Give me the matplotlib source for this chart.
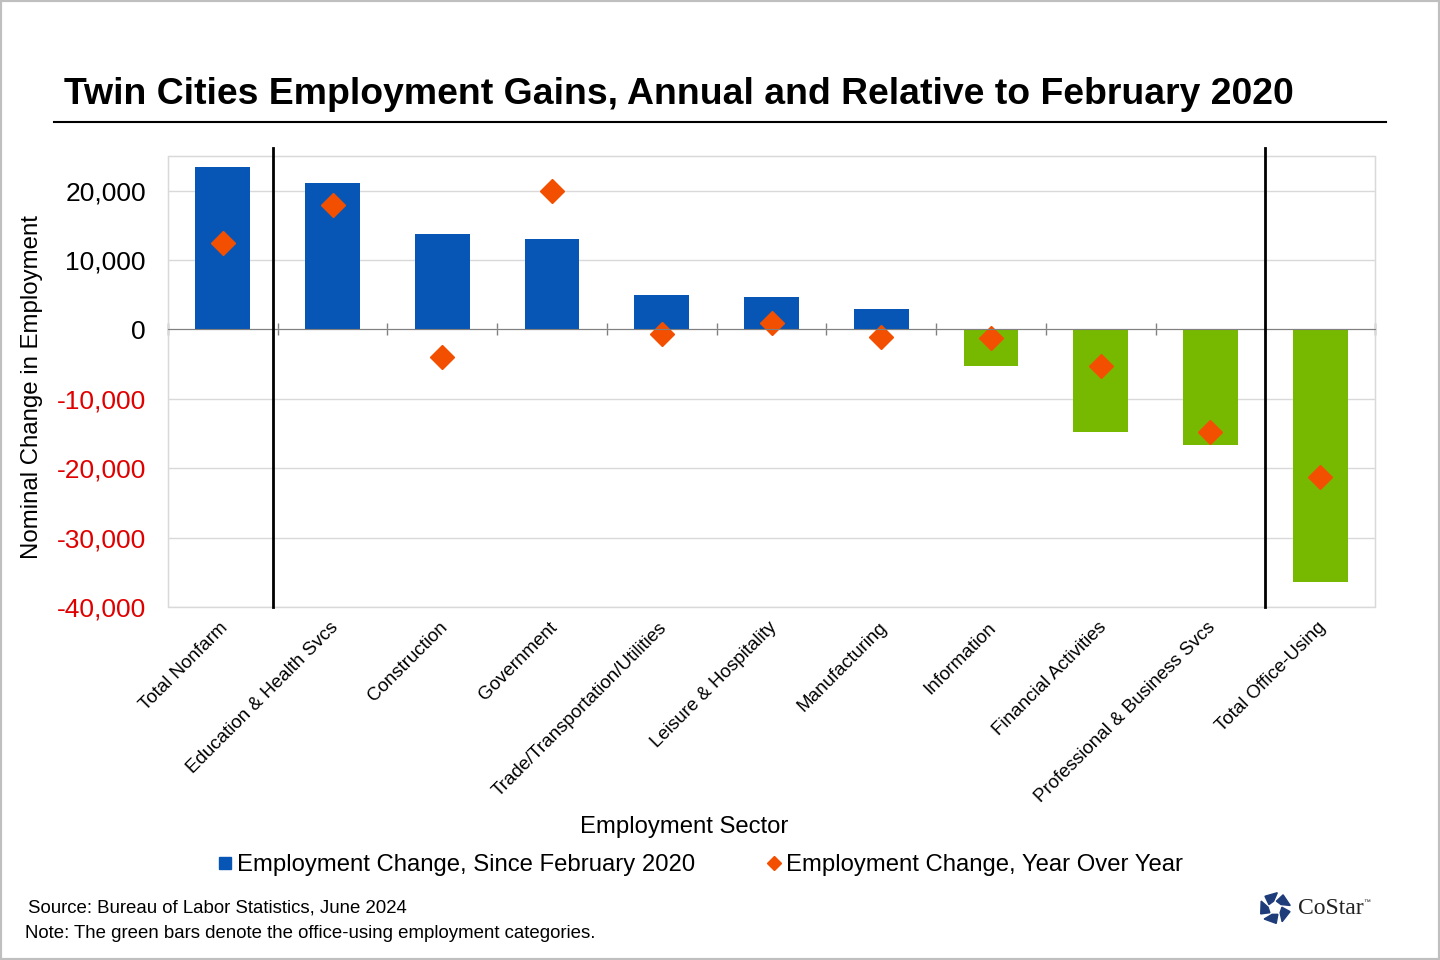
import numpy as np
import matplotlib
matplotlib.use('Agg')
import matplotlib.pyplot as plt
from matplotlib.patches import Rectangle, Polygon
from matplotlib.lines import Line2D
from matplotlib.transforms import blended_transform_factory, offset_copy

plt.rcParams['font.family'] = ['Liberation Sans', 'DejaVu Sans']

sectors = ['Total Nonfarm', 'Education & Health Svcs', 'Construction', 'Government',
           'Trade/Transportation/Utilities', 'Leisure & Hospitality', 'Manufacturing',
           'Information', 'Financial Activities', 'Professional & Business Svcs',
           'Total Office-Using']
since_feb2020 = [23450, 21150, 13700, 13100, 4900, 4750, 2900, -5200, -14800, -16700, -36400]
year_over_year = [12400, 18000, -3900, 19900, -700, 1000, -1100, -1200, -5300, -14800, -21200]
office_using = [False, False, False, False, False, False, False, True, True, True, True]

BLUE = '#0755B4'
GREEN = '#77B800'
ORANGE = '#F25000'
RED = '#E00000'

fig = plt.figure(figsize=(14.4, 9.6), dpi=100)
ax = fig.add_axes([168 / 1440, 1 - 607 / 960, (1375 - 168) / 1440, (607 - 156) / 960])

x = np.arange(len(sectors))
colors = [GREEN if o else BLUE for o in office_using]
ax.bar(x, since_feb2020, width=0.5, color=colors, zorder=2)
ax.plot(x, year_over_year, linestyle='none', marker='D', markersize=12,
        color=ORANGE, zorder=3)

ax.set_xlim(-0.5, len(sectors) - 0.5)
ax.set_ylim(-40000, 25000)
yt = np.arange(-40000, 20001, 10000)
ax.set_yticks(yt)
ax.set_yticklabels([f'{v:,}' for v in yt], fontsize=19)
for lab, v in zip(ax.get_yticklabels(), yt):
    lab.set_color(RED if v < 0 else 'black')
ax.tick_params(axis='y', length=0, pad=16)
ax.grid(axis='y', color='#D9D9D9', linewidth=1, zorder=0)

# zero axis with boundary ticks
ax.spines['bottom'].set_position(('data', 0))
ax.spines['bottom'].set_color('#808080')
ax.spines['bottom'].set_zorder(4)
ax.set_xticks(np.arange(-0.5, len(sectors), 1))
ax.set_xticklabels([])
ax.tick_params(axis='x', direction='inout', length=8, color='#808080', width=1)
for s in ['top', 'left', 'right']:
    ax.spines[s].set_color('#D9D9D9')
ax.add_patch(Rectangle((0, 0), 1, 1, transform=ax.transAxes, fill=False,
                       edgecolor='#D9D9D9', linewidth=1, zorder=1, clip_on=False))

# separators
for b in [0.455, len(sectors) - 1.5]:
    ax.axvline(b, ymin=0, ymax=1.018, color='black', linewidth=2, clip_on=False, zorder=5)

# category labels
trans = offset_copy(blended_transform_factory(ax.transData, ax.transAxes),
                    fig=fig, x=2, y=-13, units='points')
for xi, name in zip(x, sectors):
    ax.text(xi, 0, name, transform=trans, rotation=45, rotation_mode='anchor',
            ha='right', va='center', fontsize=13.5)

ax.set_ylabel('Nominal Change in Employment', fontsize=17.3)
ax.yaxis.set_label_coords(-0.1035, 0.487)

fig.text(0.475, 1 - 827 / 960, 'Employment Sector', ha='center', va='center', fontsize=17.2)

# title
fig.text(64 / 1440, 1 - 95 / 960, 'Twin Cities Employment Gains, Annual and Relative to February 2020',
         fontsize=26.9, fontweight='bold', va='center', ha='left')
fig.add_artist(Line2D([54 / 1440, 1386 / 1440], [1 - 122 / 960] * 2, color='black', linewidth=1.5))

# legend
handles = [Line2D([], [], linestyle='none', marker='s', markersize=8, color=BLUE),
           Line2D([], [], linestyle='none', marker='D', markersize=7, color=ORANGE)]
fig.legend(handles, ['Employment Change, Since February 2020', 'Employment Change, Year Over Year'],
           loc='center', bbox_to_anchor=(0.4853, 1 - 865 / 960), ncol=2, frameon=False,
           fontsize=17.2, handletextpad=0.1, columnspacing=2.9, handlelength=0.8)

fig.text(28 / 1440, 1 - 908 / 960, 'Source: Bureau of Labor Statistics, June 2024',
         fontsize=13.4, va='center')
fig.text(25 / 1440, 1 - 934 / 960, 'Note: The green bars denote the office-using employment categories.',
         fontsize=13.4, va='center')

# logo
lax = fig.add_axes([1258 / 1440, 1 - 925 / 960, 34 / 1440, 34 / 960])
lax.set_xlim(-1.1, 1.1)
lax.set_ylim(-1.1, 1.1)
lax.axis('off')
for k in range(5):
    a = np.deg2rad(90 + 72 * k)
    a2 = np.deg2rad(90 + 72 * (k + 1))
    p_out1 = (np.cos(a - 0.15), np.sin(a - 0.15))
    p_out2 = (np.cos(a2 - 0.55), np.sin(a2 - 0.55))
    p_in2 = (0.45 * np.cos(a2 - 0.2), 0.45 * np.sin(a2 - 0.2))
    p_in1 = (0.45 * np.cos(a + 0.2), 0.45 * np.sin(a + 0.2))
    lax.add_patch(Polygon([p_out1, p_out2, p_in2, p_in1], closed=True, color='#1F3C7A'))
fig.text(1298 / 1440, 1 - 908 / 960, 'CoStar', family='Liberation Serif', fontsize=17,
         va='center', color='#222222')
fig.text(1363 / 1440, 1 - 902 / 960, '™', fontsize=5, va='center', color='#222222')

fig.add_artist(Rectangle((0, 0), 1, 1, transform=fig.transFigure, fill=False,
                         edgecolor='#BFBFBF', linewidth=3))

fig.savefig('out.png', dpi=100)
